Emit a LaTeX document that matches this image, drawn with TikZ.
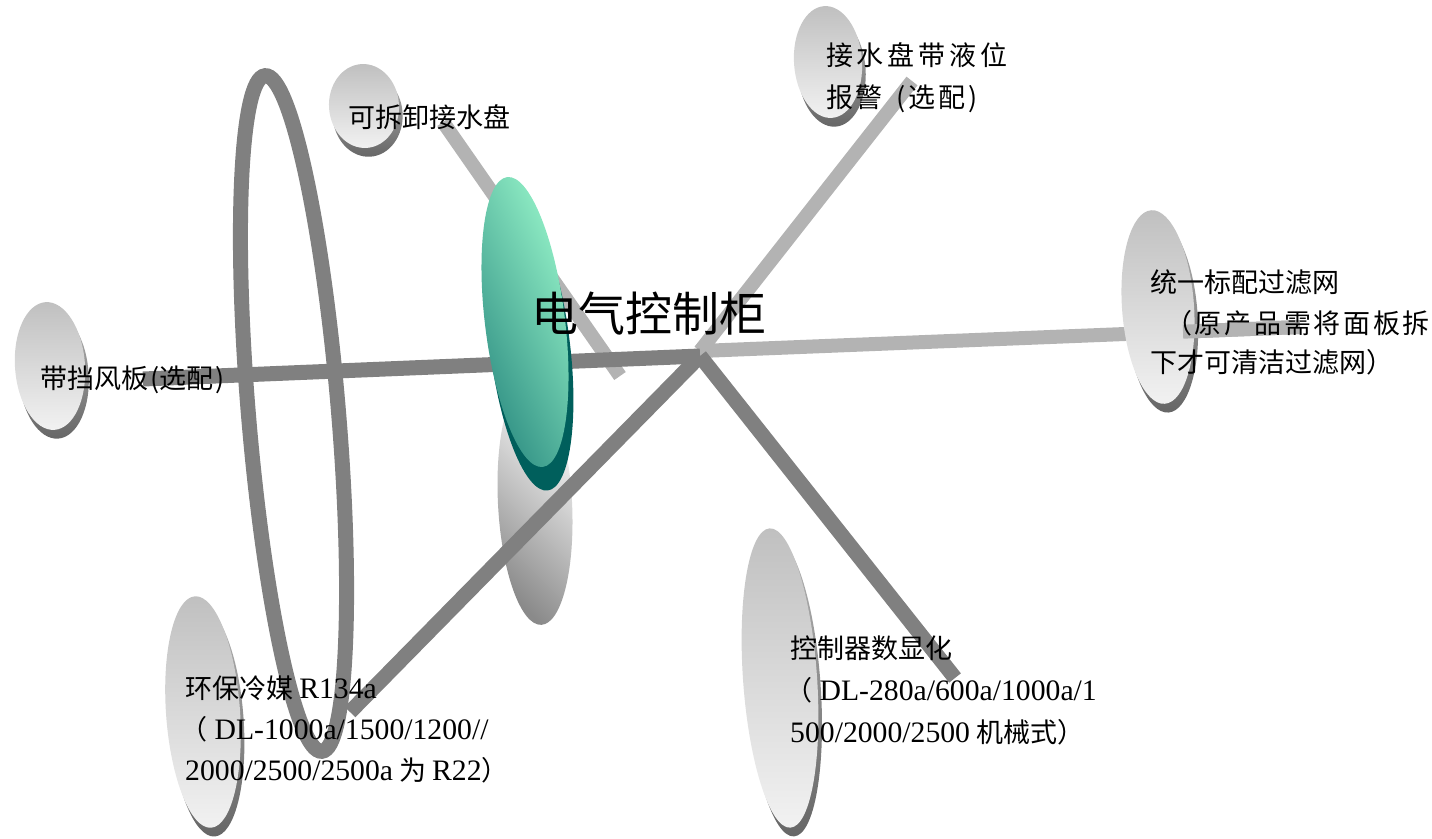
\documentclass[tikz,border=0pt]{standalone}
\usepackage{fontspec}
\setmainfont{Noto Sans CJK SC}
\newfontfamily\lat[Scale=1.1]{Liberation Serif}
\usetikzlibrary{calc}
\definecolor{darkbar}{HTML}{808080}
\definecolor{lightbar}{HTML}{B3B3B3}
\definecolor{discA}{HTML}{C0C0C0}
\definecolor{discB}{HTML}{F2F2F2}
\definecolor{shA}{HTML}{B4B4B4}
\definecolor{shB}{HTML}{666666}
\definecolor{mintA}{HTML}{98F5CA}
\definecolor{mintM}{HTML}{7EDDBE}
\definecolor{mintB}{HTML}{2A8A80}
\definecolor{tealsh}{HTML}{005F5C}
\definecolor{cgA}{HTML}{FFFFFF}
\definecolor{cgB}{HTML}{8A8A8A}
\tikzset{
  darkline/.style={draw=darkbar, line width=15pt},
  lightline/.style={draw=lightbar, line width=14pt},
  lbl/.style={anchor=base west, inner sep=0pt, font=\fontsize{27}{30}\selectfont},
  ttl/.style={anchor=base west, inner sep=0pt, font=\fontsize{47}{50}\selectfont},
}
\newcommand\mydisc[5]{%
  \begin{scope}[shift={(#1,#2)}, rotate=#5]
    \shade[top color=shA, bottom color=shB] (3,9) ellipse ({#3} and {#4});
    \shade[top color=discA, bottom color=discB] (0,0) ellipse ({#3} and {#4});
  \end{scope}}
\begin{document}
\begin{tikzpicture}[x=1pt,y=-1pt]
\useasboundingbox (0,0) rectangle (1432,838);
% loop
\begin{scope}[shift={(293.5,413.5)}, rotate=4.8]
  \draw[darkline] (0,0) ellipse (45 and 339);
\end{scope}
% discs
\mydisc{364}{106}{35}{42}{4}
\mydisc{828}{62}{34}{56}{4}
\mydisc{50}{366}{35}{64}{4}
\mydisc{203}{712}{37}{116}{4}
\mydisc{780}{678}{37}{150}{4}
% central gray ellipse
\begin{scope}[shift={(535,503)}, rotate=3]
  \shade[top color=cgA, middle color=white!80!cgB, bottom color=cgB, shading angle=-45] (0,0) ellipse (37 and 122);
\end{scope}
% connectors
\coordinate (hubD) at (700,356);
\coordinate (hubL) at (700,351);
\coordinate (eL) at (143,379);
\coordinate (eDL) at (350,712);
\coordinate (eDR) at (955,678);
\coordinate (eUL) at (443,122);
\coordinate (eULb) at (620,376);
\coordinate (eUR) at (912,81);
\coordinate (eR) at (1300,327);
\draw[lightline] (eUL) -- (eULb);
\draw[lightline] (hubL) -- (eUR);
\draw[lightline] (hubL) -- (eR);
\draw[darkline] (eL) -- (hubD);
\draw[darkline] (hubD) -- (eDL);
\draw[darkline] (hubD) -- (eDR);
\mydisc{1158}{307}{36}{97}{4}
\draw[lightline] ($(hubL)!0.805!(eR)$) -- (eR);
% green ellipse
\begin{scope}[shift={(525,322)}, rotate=7]
  \fill[tealsh] (2,24) ellipse (40 and 146);
  \shade[top color=mintA, middle color=mintM, bottom color=mintB, shading angle=-65] (0,0) ellipse (40 and 146);
\end{scope}
% texts
\node[ttl] (title) at (531,331) {电气控制柜};
\node[lbl] (t1) at (348,127) {可拆卸接水盘};
\node[lbl] (t2a) at (826,65) {\addfontfeature{LetterSpace=14}接水盘带液位};
\node[lbl] (t2b) at (826,107) {\addfontfeature{LetterSpace=10}报警\hspace{14pt}(选配)};
\node[lbl] (t3a) at (1150,292) {统一标配过滤网};
\node[lbl] (t3b) at (1165,333) {\addfontfeature{LetterSpace=10}（原产品需将面板拆};
\node[lbl] (t3c) at (1150,372) {下才可清洁过滤网）};
\node[lbl] (t4) at (40,388) {带挡风板\hspace{2pt}(选配\hspace{2pt})};
\node[lbl] (t5a) at (185,698) {环保冷媒 {\lat R134a}};
\node[lbl] (t5b) at (180,739) {（{\lat\ DL-1000a/1500/1200//}};
\node[lbl] (t5c) at (185,780) {{\lat 2000/2500/2500a} 为 {\lat R22}）};
\node[lbl] (t6a) at (790,658) {控制器数显化};
\node[lbl] (t6b) at (785,700) {（{\lat\ DL-280a/600a/1000a/1}};
\node[lbl] (t6c) at (790,742) {{\lat 500/2000/2500} 机械式）};
\end{tikzpicture}
\end{document}
